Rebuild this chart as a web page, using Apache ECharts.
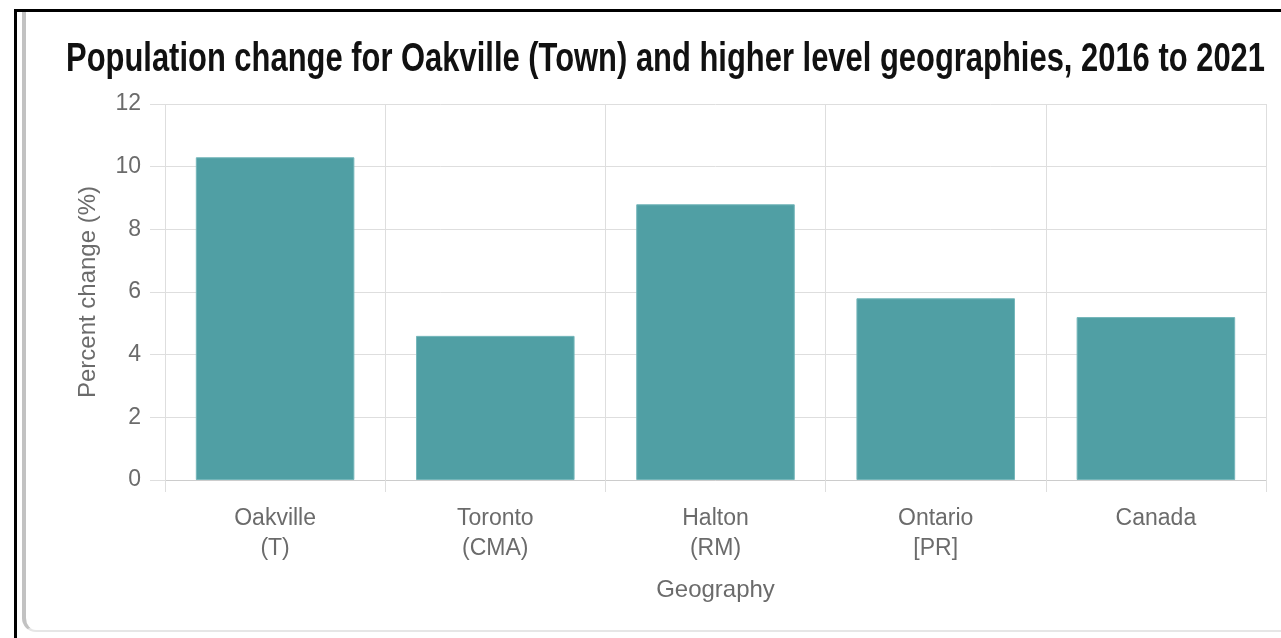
<!DOCTYPE html>
<html>
<head>
<meta charset="utf-8">
<script src="https://cdn.jsdelivr.net/npm/echarts@6/dist/echarts.min.js"></script>
<style>
  html, body { margin: 0; padding: 0; background: #fff; overflow: hidden; }
  #chart { position: absolute; left: 0; top: 0; width: 1281px; height: 638px; }
  #frameBlack { position: absolute; left: 14px; top: 9px; width: 1300px; height: 700px;
    border-left: 3px solid #000; border-top: 3px solid #000; box-sizing: border-box; }
  #frameGrey { position: absolute; left: 22px; top: 12px; width: 1300px; height: 620px;
    border-left: 4px solid #c2c2c2; border-bottom: 2px solid #e6e6e6; border-bottom-left-radius: 14px; box-sizing: border-box; }
</style>
</head>
<body>
<div id="chart"></div>
<div id="frameBlack"></div>
<div id="frameGrey"></div>
<script>
const titleText = 'Population change for Oakville (Town) and higher level geographies, 2016 to 2021';
const categories = ['Oakville\n(T)', 'Toronto\n(CMA)', 'Halton\n(RM)', 'Ontario\n[PR]', 'Canada'];
const percentChange = [10.3, 4.6, 8.8, 5.8, 5.2];
const yTicks = [0, 2, 4, 6, 8, 10, 12];
const xAxisName = 'Geography';
const yAxisName = 'Percent change (%)';

const titleFont = 'bold 41px "Liberation Sans", Arial, sans-serif';
const cv = document.createElement('canvas').getContext('2d');
cv.font = titleFont;
const natW = cv.measureText(titleText).width;
const targetW = 1199;
const sx = targetW / natW;

const chart = echarts.init(document.getElementById('chart'), null, { renderer: 'canvas' });
const labelColor = '#6b6b6b';
const gridColor = '#dedede';
const fam = 'Liberation Sans, Arial, sans-serif';
chart.setOption({
  animation: false,
  backgroundColor: '#fff',
  grid: { left: 165, right: 15, top: 104, bottom: 158, containLabel: false },
  graphic: [{
    type: 'text',
    left: 66, top: 39,
    scaleX: sx,
    style: {
      text: titleText,
      font: titleFont,
      fill: '#111'
    }
  }],
  xAxis: {
    type: 'category',
    data: categories,
    name: xAxisName,
    nameLocation: 'middle',
    nameGap: 98,
    nameTextStyle: { color: labelColor, fontSize: 24, fontFamily: fam },
    axisLine: { show: true, lineStyle: { color: '#cccccc', width: 1 } },
    axisTick: { show: true, length: 12, lineStyle: { color: gridColor } },
    axisLabel: { color: labelColor, fontSize: 23, lineHeight: 30, margin: 24, fontFamily: fam },
    splitLine: { show: true, lineStyle: { color: gridColor, width: 1 } }
  },
  yAxis: {
    type: 'value',
    min: 0, max: 12, interval: 2,
    name: yAxisName,
    nameLocation: 'middle',
    nameGap: 65,
    nameRotate: 90,
    nameTextStyle: { color: labelColor, fontSize: 24, fontFamily: fam },
    axisLine: { show: false },
    axisTick: { show: true, length: 15, inside: false, lineStyle: { color: gridColor } },
    axisLabel: { color: labelColor, fontSize: 23, margin: 24, fontFamily: fam,
      formatter: function (v) { return yTicks.indexOf(v) >= 0 ? String(v) : ''; } },
    splitLine: { show: true, lineStyle: { color: gridColor, width: 1 } }
  },
  series: [{
    type: 'bar',
    data: percentChange,
    barCategoryGap: '28%',
    itemStyle: { color: '#509fa4', borderColor: '#74b6ba', borderWidth: 1 }
  }]
});
</script>
</body>
</html>
